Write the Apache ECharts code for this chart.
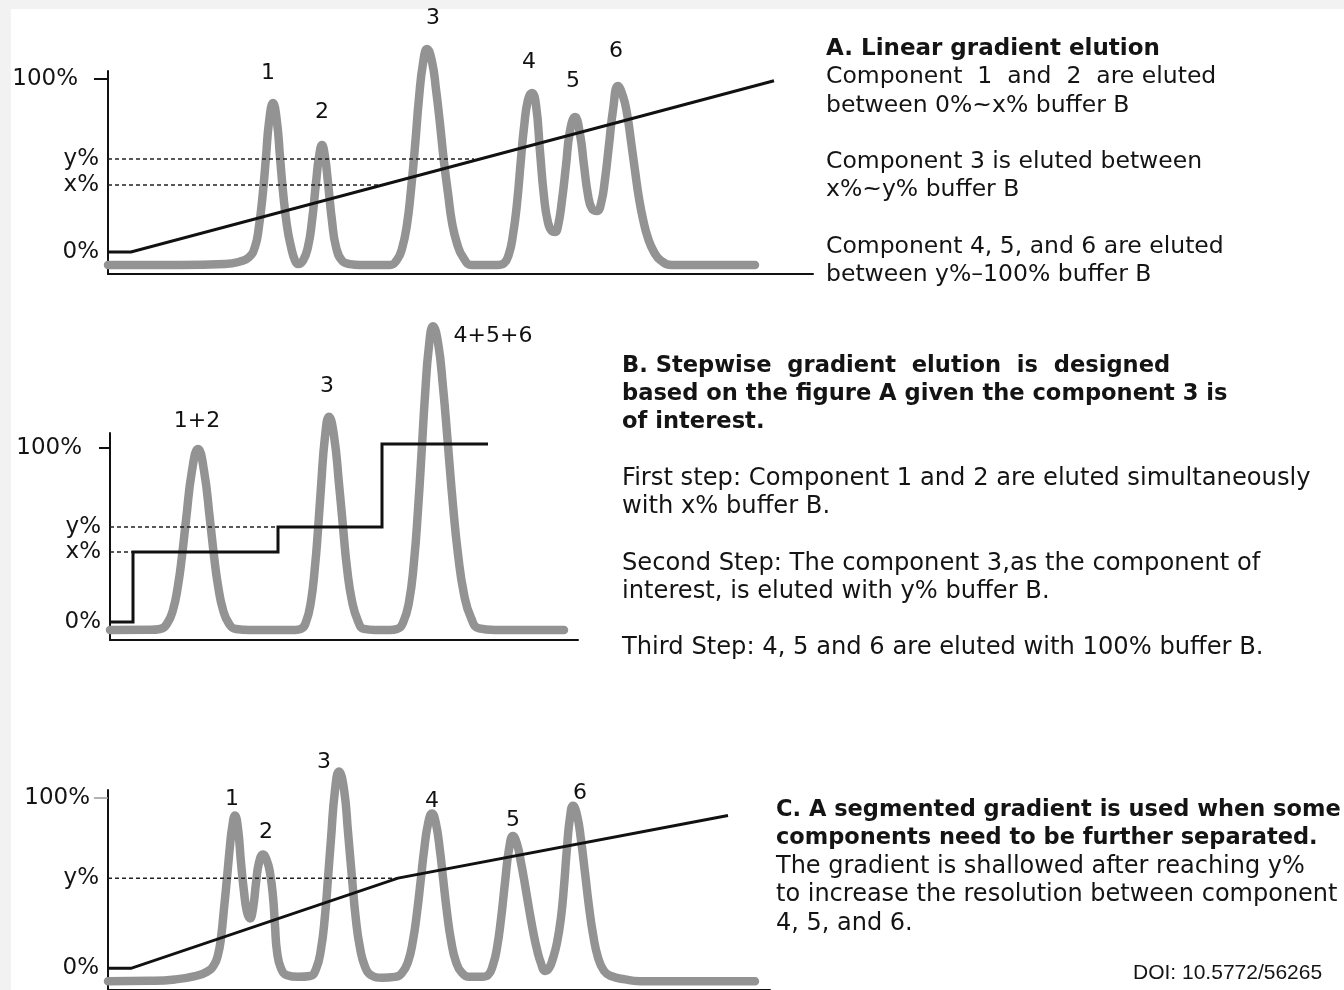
<!DOCTYPE html>
<html>
<head>
<meta charset="utf-8">
<script src="https://cdn.jsdelivr.net/npm/echarts@6/dist/echarts.min.js"></script>
<style>
html,body{margin:0;padding:0;background:#f2f2f2;}
#chart{width:1344px;height:990px;}
</style>
</head>
<body>
<div id="chart"></div>
<script>
// ---------- DATA (x = elution time, a.u.; y = % / signal) ----------
// Panel A: linear gradient
const chromA = [[108,-7.5],[180,-7.5],[225,-7],[240,-5.5],[249,-3],[255,3],[259,15],[263,35],[266,55],[269,75],[273,86.1],[277,75],[280,55],[283,35],[287,15],[291,3],[295,-5],[298,-7],[303,-5],[308,3],[312,18],[316,40],[319,55],[322,61.8],[325,55],[328,40],[332,18],[336,3],[342,-5],[350,-7],[360,-7.5],[390,-7.5],[397,-4.5],[402,2],[407,16],[411,36],[415,61],[419,89],[423,109],[427,117.3],[432,110],[436,94],[440,74],[444,52],[448,34],[452,17],[457,5],[463,-3],[472,-7.5],[498,-7.5],[504,-6.5],[509,-1],[513,10],[517,28],[521,54],[524,72],[528,88],[532,91.9],[536,85],[540,58],[544,32],[548,17],[552,12],[555,11.5],[558,15],[562,30],[566,50],[570,70],[575,78],[580,68],[584,50],[588,33],[592,25],[597,23.7],[601,28],[605,42],[609,62],[613,82],[618,96],[623,90],[627,80],[631,64],[635,47],[639,31],[643,19],[648,8],[654,0],[661,-5],[672,-7.5],[755,-7.5]];
const gradA = [[108,0],[131,0],[774,99]];
const dashYA = [[108,53.8],[474,53.8]];
const dashXA = [[108,38.7],[378,38.7]];
const tickValsA = [0,38.7,53.8,100];
const tickLabelsA = ['0%','x%','y%','100%'];
const peakNamesA = ['1','2','3','4','5','6'];
const peakLabelXA = [268,322,433,529,573,616];
const peakLabelYA = [103.5,81,135.3,109.8,98.8,116.2];

// Panel B: stepwise gradient
const chromB = [[110,-4.6],[150,-4.5],[160,-4],[167,-1],[173,7],[178,21],[182,38],[186,58.5],[192,87],[198,99.4],[204,87],[210,58.5],[214,38],[218,21],[223,7],[229,-1],[236,-4],[250,-4.6],[295,-4.6],[301,-4],[306,0],[311,12],[315,32],[318,53],[321,77.6],[325,106.5],[329,118],[334,107],[339,79.4],[343,54.6],[347,31],[352,12],[358,0.5],[364,-4],[375,-4.6],[390,-4.6],[397,-4],[403,-0.4],[409,11.5],[414,34.7],[418,64.4],[422,101.4],[425,130],[429,158.8],[433,170],[438,160.6],[443,135],[448,101.4],[453,67],[458,39],[464,16],[471,2.4],[479,-3.7],[495,-4.6],[564,-4.6]];
const gradB = [[110,0],[133,0],[133,40.2],[278,40.2],[278,54.6],[382,54.6],[382,102.3],[488,102.3]];
const dashYB = [[110,54.6],[278,54.6]];
const dashXB = [[110,40.2],[133,40.2]];
const tickValsB = [0,40.2,54.6,100];
const tickLabelsB = ['0%','x%','y%','100%'];
const peakNamesB = ['1+2','3','4+5+6'];
const peakLabelXB = [197,327,493];
const peakLabelYB = [115.5,135.6,164.4];

// Panel C: segmented gradient
const chromC = [[108,-7.5],[150,-7.3],[175,-6.5],[195,-4.5],[207,-2],[214,2],[218,8],[221,18],[224,35],[227,53],[230,72],[232,82],[235,89.7],[238,82],[241,62],[244,45],[247,33],[250,29.3],[253,35],[256,50],[259,62],[263,66.7],[267,63],[270,56],[273,42],[275,25],[277,10],[281,0],[287,-4],[298,-5],[310,-4.5],[316,-0.4],[321,11.3],[325,31],[328,52.9],[331,76],[335,104.5],[339,115.5],[344,105],[348,80],[352,52.9],[356,28],[360,12],[365,1],[371,-4],[382,-5.5],[395,-5],[402,-2.7],[408,3.8],[413,16.5],[417,32.8],[421,53.2],[424,68.8],[428,84.7],[432,90.8],[436,84.7],[440,68.8],[443,53.2],[447,32.8],[451,16.5],[456,3.8],[462,-2.7],[470,-5],[482,-5],[488,-4],[493,2],[497,12],[501,28.9],[505,50.3],[509,69.8],[513,77.6],[517,73],[521,62],[525,49],[529,35],[533,22],[537,11],[541,3],[545,-1.5],[549,0],[553,6],[557,15],[561,30],[564,48.2],[567,70.8],[570,88.6],[573,95.4],[577,90],[581,75.3],[585,56],[589,36.2],[593,20.1],[598,6.4],[604,-1.5],[611,-4.5],[625,-6.5],[640,-7.5],[755,-7.5]];
const gradC = [[108,0],[131,0],[398,52.9],[728,89.7]];
const dashYC = [[108,52.9],[398,52.9]];
const tickValsC = [0,52.9,100];
const tickLabelsC = ['0%','y%','100%'];
const peakNamesC = ['1','2','3','4','5','6'];
const peakLabelXC = [232,266,324,432,513,580];
const peakLabelYC = [99.4,79.9,120.7,97.7,86.8,102.9];

// Text blocks
const textA = ['A. Linear gradient elution','Component  1  and  2  are eluted','between 0%~x% buffer B','','Component 3 is eluted between','x%~y% buffer B','','Component 4, 5, and 6 are eluted','between y%\u2013100% buffer B'];
const textB = ['B. Stepwise  gradient  elution  is  designed','based on the figure A given the component 3 is','of interest.','','First step: Component 1 and 2 are eluted simultaneously','with x% buffer B.','','Second Step: The component 3,as the component of','interest, is eluted with y% buffer B.','','Third Step: 4, 5 and 6 are eluted with 100% buffer B.'];
const textC = ['C. A segmented gradient is used when some','components need to be further separated.','The gradient is shallowed after reaching y%','to increase the resolution between component','4, 5, and 6.'];
const doiText = 'DOI: 10.5772/56265';

// ---------- LAYOUT ----------
const FONT = '"DejaVu Sans", "Liberation Sans", Arial, sans-serif';
const TXT = '#141414';
const panels = [
  {zeroPy:252, pxPer:1.73, yMax:104.6, yMin:-12.7, xMin:108, xMax:813, tickColor:'#111', tickLen:14, tickW:2, margin:9, farPad:21},
  {zeroPy:622, pxPer:1.74, yMax:108.6, yMin:-10.3, xMin:110, xMax:578, tickColor:'#111', tickLen:11, tickW:2, margin:9, farPad:19},
  {zeroPy:972, pxPer:1.74, yMax:104.6, yMin:-12.7, xMin:108, xMax:770, tickColor:'#999', tickLen:14, tickW:1.5, margin:9, farPad:9}
];
const tickVals = [tickValsA, tickValsB, tickValsC];
const tickLabels = [tickLabelsA, tickLabelsB, tickLabelsC];

const grids = [], xAxes = [], yAxes = [];
panels.forEach((p, i) => {
  grids.push({left:p.xMin, width:p.xMax - p.xMin, top:p.zeroPy - p.yMax*p.pxPer, height:(p.yMax - p.yMin)*p.pxPer, containLabel:false});
  xAxes.push({type:'value', gridIndex:i, min:p.xMin, max:p.xMax,
    axisLine:{show:true, onZero:false, lineStyle:{color:'#111', width:2}},
    axisTick:{show:false}, axisLabel:{show:false}, splitLine:{show:false}});
  const vals = tickVals[i], labs = tickLabels[i];
  yAxes.push({type:'value', gridIndex:i, min:p.yMin, max:p.yMax,
    axisLine:{show:true, onZero:false, lineStyle:{color:'#111', width:2}},
    axisTick:{show:true, customValues:[100], length:p.tickLen, lineStyle:{color:p.tickColor, width:p.tickW}},
    axisLabel:{show:true, customValues:vals, margin:p.margin, fontFamily:FONT, fontSize:23, color:TXT,
      formatter:function(v){
        let best = 0;
        vals.forEach((t, k) => { if (Math.abs(t - v) < Math.abs(vals[best] - v)) best = k; });
        const s = labs[best];
        return s === '100%' ? '{far|' + s + '}' : s;
      },
      rich:{far:{padding:[0,p.farPad,0,0], fontFamily:FONT, fontSize:23, color:TXT}}
    },
    splitLine:{show:false}});
});

const series = [];
function chrom(data, i){
  series.push({type:'line', xAxisIndex:i, yAxisIndex:i, data:data, smooth:0.5, symbol:'none', showSymbol:false, clip:false, silent:true, z:2,
    lineStyle:{color:'#939393', width:8.5, cap:'round', join:'round'}});
}
function grad(data, i){
  series.push({type:'line', xAxisIndex:i, yAxisIndex:i, data:data, symbol:'none', clip:false, silent:true, z:4,
    lineStyle:{color:'#111', width:3, join:'miter'}});
}
function dash(data, i){
  series.push({type:'line', xAxisIndex:i, yAxisIndex:i, data:data, symbol:'none', clip:false, silent:true, z:3,
    lineStyle:{color:'#222', width:1.5, type:[4,3]}});
}
function peaks(names, xs, ys, i){
  series.push({type:'scatter', xAxisIndex:i, yAxisIndex:i, symbolSize:0, clip:false, silent:true, z:5,
    itemStyle:{color:'#111', opacity:1},
    label:{show:true, position:'inside', formatter:'{b}', fontFamily:FONT, fontSize:22, color:'#111', opacity:1, textBorderWidth:0},
    data:names.map((n, k) => ({name:n, value:[xs[k], ys[k]]}))});
}
chrom(chromA,0); dash(dashYA,0); dash(dashXA,0); grad(gradA,0); peaks(peakNamesA, peakLabelXA, peakLabelYA, 0);
chrom(chromB,1); dash(dashYB,1); dash(dashXB,1); grad(gradB,1); peaks(peakNamesB, peakLabelXB, peakLabelYB, 1);
chrom(chromC,2); dash(dashYC,2); grad(gradC,2); peaks(peakNamesC, peakLabelXC, peakLabelYC, 2);

// text graphics
const graphics = [{type:'rect', z:-10, silent:true, shape:{x:11, y:9, width:1333, height:981}, style:{fill:'#ffffff'}}];
function block(lines, x, y0, lh, boldCount, regSize, boldSize){
  lines.forEach((s, k) => {
    if (!s) return;
    const bold = k < boldCount;
    graphics.push({type:'text', z:10, silent:true, x:x, y:y0 + k*lh,
      style:{text:s, font:(bold ? 'bold ' : '') + (bold ? boldSize : regSize) + 'px ' + FONT, fill:TXT,
        textAlign:'left', textVerticalAlign:'middle', verticalAlign:'middle'}});
  });
}
block(textA, 826, 49, 28.25, 1, 23.5, 23);
block(textB, 622, 366, 28.2, 3, 24.2, 22.6);
block(textC, 776, 810, 28.4, 2, 24, 22.5);
graphics.push({type:'text', z:10, silent:true, x:1133, y:973,
  style:{text:doiText, font:'21px "Liberation Sans", Arial, sans-serif', fill:TXT, textAlign:'left', textVerticalAlign:'middle', verticalAlign:'middle'}});

const chart = echarts.init(document.getElementById('chart'), null, {renderer:'canvas'});
chart.setOption({
  backgroundColor:'#f2f2f2',
  animation:false,
  grid:grids, xAxis:xAxes, yAxis:yAxes, series:series, graphic:graphics
});
</script>
</body>
</html>
